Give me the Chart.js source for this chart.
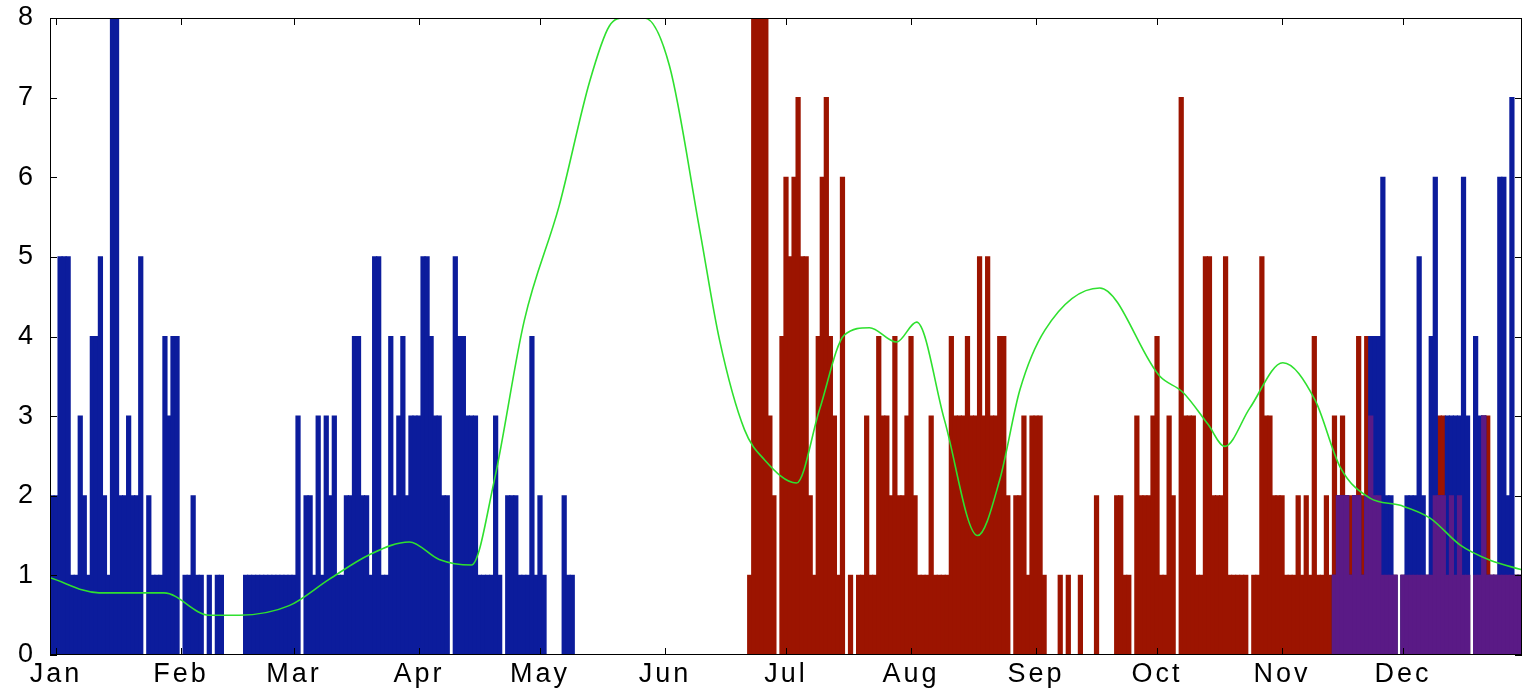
<!DOCTYPE html>
<html>
<head>
<meta charset="utf-8">
<script src="https://cdn.jsdelivr.net/npm/chart.js@4.4.1/dist/chart.umd.min.js"></script>
<style>html,body{margin:0;padding:0;background:#fff;}canvas{display:block;}</style>
</head>
<body>
<canvas id="c" width="1524" height="691"></canvas>
<script>
// Month tick labels and their day-of-year positions (Jan 1 = day 0)
const monthLabels = ['Jan','Feb','Mar','Apr','May','Jun','Jul','Aug','Sep','Oct','Nov','Dec'];
const monthStartDays = [0,31,59,90,120,151,181,212,243,273,304,334];

// Blue series, daily counts, first block starts at day -1
const blueFirstDay = -1;
const blueCountsJanMay = [
  2,2,5,5,5,1,1,3,2,1,
  4,4,5,2,1,8,8,2,2,3,
  2,2,5,0,2,1,1,1,4,3,
  4,4,0,1,1,2,1,1,0,1,
  0,1,1,0,0,0,0,0,1,1,
  1,1,1,1,1,1,1,1,1,1,
  1,3,0,2,2,1,3,1,3,2,
  3,1,1,2,2,4,4,2,2,1,
  5,5,1,1,4,2,3,4,2,3,
  3,3,5,5,4,3,3,2,2,0,
  5,4,4,3,3,3,1,1,1,1,
  3,1,0,2,2,2,1,1,1,4,
  1,2,1,0,0,0,0,2,1,1
];
// Blue series, second block starts at day 317
const blueLateFirstDay = 317;
const blueCountsNovDec = [
  1,2,2,2,1,2,2,1,2,4,
  4,4,6,2,2,1,0,1,2,2,
  2,5,2,1,4,6,2,2,3,3,
  3,3,6,3,0,4,3,3,1,1,
  1,6,6,2,7,1,1
];
// Red series, daily counts, starts at day 172
const redFirstDay = 172;
const redCountsJunDec = [
  1,8,8,8,8,3,2,0,4,6,
  5,6,7,5,5,2,1,4,6,7,
  4,3,1,6,0,1,0,1,1,3,
  1,1,4,3,3,2,4,2,2,3,
  4,2,1,1,1,3,1,1,1,1,
  4,3,3,3,4,3,3,5,3,5,
  3,3,4,4,2,0,2,2,3,1,
  3,3,3,1,0,0,0,1,0,1,
  0,0,1,0,0,0,2,0,0,0,
  0,2,2,1,1,0,3,2,2,2,
  3,4,1,1,3,2,0,7,3,3,
  3,1,1,5,5,2,2,2,5,1,
  1,1,1,1,0,1,1,5,3,3,
  2,2,2,1,1,1,2,1,2,1,
  4,1,1,2,1,
  3,2,3,2,2,2,4,2,4,3,
  2,2,1,1,1,1,0,1,1,1,
  1,1,1,1,1,2,3,3,1,2,
  1,2,1,1,0,1,1,3,3,1,
  1,1,1,1,1,1,1
];
// Green smoothed trend (day, value)
const trendDays = [-1.5,10.7,26.8,38,45.4,57.8,67.7,77.7,87.6,95,103,108.7,116.1,124.8,132.3,137.2,140.9,145.9,152.1,159.6,164.5,170.7,175.7,183.6,189.3,195.5,201.7,208.4,213.4,220.3,228.5,234,239,245.2,258.8,273.7,279.4,285.6,289.8,296,304.2,312.2,318.4,325.8,333.3,340.7,348.2,355.6,363.5];
const trendValues = [0.97,0.78,0.78,0.5,0.5,0.62,0.95,1.26,1.42,1.2,1.13,2.2,4.2,5.65,7.2,7.9,8.0,8.0,7.4,5.34,3.96,2.83,2.45,2.16,3.08,4.02,4.11,3.93,4.18,2.95,1.5,2.2,3.33,4.08,4.61,3.5,3.3,2.9,2.62,3.1,3.67,3.2,2.36,1.97,1.88,1.72,1.38,1.19,1.07];

// ---- build datasets from the arrays ----
function toMap(firstDay, values, map) {
  values.forEach((v, i) => { map[firstDay + i] = v; });
  return map;
}
const blueMap = {};
toMap(blueFirstDay, blueCountsJanMay, blueMap);
toMap(blueLateFirstDay, blueCountsNovDec, blueMap);
const redMap = toMap(redFirstDay, redCountsJunDec, {});

const bluePts = Object.keys(blueMap).map(Number).sort((a,b)=>a-b).map(d => ({x:d, y: blueMap[d] > 0 ? blueMap[d] : null}));
const redPts = Object.keys(redMap).map(Number).sort((a,b)=>a-b).map(d => ({x:d, y: redMap[d] > 0 ? redMap[d] : null}));
const overlapPts = Object.keys(redMap).map(Number).filter(d => blueMap[d] > 0 && redMap[d] > 0)
  .map(d => ({x:d, y: Math.min(blueMap[d], redMap[d])}));
const trendPts = trendDays.map((d, i) => ({x:d, y: trendValues[i]}));

const framePlugin = {
  id: 'frame',
  beforeDraw(chart) { chart.ctx.letterSpacing = '3px'; },
  afterDraw(chart) {
    const {ctx, chartArea: a, scales: {x, y}} = chart;
    ctx.save();
    ctx.letterSpacing = '0px';
    ctx.strokeStyle = '#000';
    ctx.lineWidth = 1;
    ctx.strokeRect(a.left + 0.5, a.top + 0.5, a.right - a.left - 1, a.bottom - a.top - 1);
    ctx.beginPath();
    x.ticks.forEach(t => {
      const px = Math.round(x.getPixelForValue(t.value)) + 0.5;
      ctx.moveTo(px, a.bottom); ctx.lineTo(px, a.bottom - 7);
      ctx.moveTo(px, a.top); ctx.lineTo(px, a.top + 7);
    });
    y.ticks.forEach(t => {
      const py = Math.round(y.getPixelForValue(t.value)) + 0.5;
      ctx.moveTo(a.left, py); ctx.lineTo(a.left + 7, py);
      ctx.moveTo(a.right, py); ctx.lineTo(a.right - 7, py);
    });
    ctx.stroke();
    ctx.restore();
  }
};

const tickFont = {family: '"Liberation Sans", Arial, sans-serif', size: 27};

new Chart(document.getElementById('c').getContext('2d'), {
  type: 'bar',
  data: {
    datasets: [
      {type: 'line', data: trendPts, borderColor: '#2fe02f', borderWidth: 1.6, pointRadius: 0,
       cubicInterpolationMode: 'monotone', order: 0},
      {data: overlapPts, backgroundColor: '#5a1a86', order: 1},
      {data: bluePts, backgroundColor: '#0c1c9c', order: 2},
      {data: redPts, backgroundColor: '#9c1400', order: 3}
    ]
  },
  options: {
    animation: false,
    responsive: false,
    devicePixelRatio: 1,
    datasets: {bar: {grouped: false, categoryPercentage: 1, barPercentage: 1, borderWidth: 0, inflateAmount: 0.6}},
    layout: {padding: {top: 18, right: 2, left: 0, bottom: 0}},
    plugins: {legend: {display: false}, tooltip: {enabled: false}},
    scales: {
      x: {
        type: 'linear', min: -1.5, max: 363.5, offset: false,
        grid: {display: false, drawTicks: false}, border: {display: false},
        afterBuildTicks: s => { s.ticks = monthStartDays.map(v => ({value: v})); },
        afterFit: s => { s.height = 36; s.paddingLeft = 0; s.paddingRight = 0; },
        ticks: {autoSkip: false, maxRotation: 0, minRotation: 0, padding: 3, color: '#000', font: tickFont,
                callback: (v, i) => monthLabels[i]}
      },
      y: {
        min: 0, max: 8,
        grid: {display: false, drawTicks: false}, border: {display: false},
        afterFit: s => { s.width = 50; s.paddingTop = 0; s.paddingBottom = 0; },
        ticks: {stepSize: 1, padding: 14, color: '#000', font: tickFont}
      }
    }
  },
  plugins: [framePlugin]
});
</script>
</body>
</html>
